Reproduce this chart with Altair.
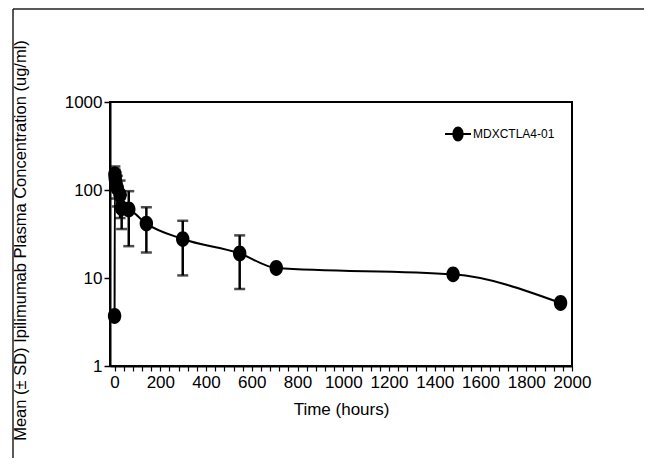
import altair as alt
import pandas as pd

# ---- data ----
time_h = [0, 1.5, 3, 6, 12, 24, 31, 62, 139, 298, 547, 707, 1480, 1950]
mean_conc = [3.7, 150, 135, 120, 105, 88, 62, 60, 41.5, 27.7, 19.0, 13.0, 11.0, 5.2]
sd_conc = [None, 35, 35, 40, 40, 40, 26, 37, 22, 17, 11.5, None, None, None]
series_name = "MDXCTLA4-01"
x_ticks = list(range(0, 2001, 40))
y_ticks = [1, 10, 100, 1000]

df = pd.DataFrame({"t": time_h, "c": mean_conc, "sd": sd_conc, "series": series_name})
err = df.dropna(subset=["sd"]).copy()
err["lo"] = err["c"] - err["sd"]
err["hi"] = err["c"] + err["sd"]

FONT = "Liberation Sans"
xscale = alt.Scale(domain=[-20, 2000], nice=False, zero=False)
yscale = alt.Scale(type="log", domain=[1, 1000], nice=False)

x_axis = alt.Axis(
    title="Time (hours)", values=x_ticks, tickCount=len(x_ticks),
    labelExpr="datum.value % 200 == 0 ? datum.label : ''",
    labelOverlap=False, labelBound=False,
    format="d", grid=False, tickSize=5, tickWidth=1.2, tickColor="black",
    domainColor="black", domainWidth=2, labelPadding=3, labelFontSize=17,
    labelColor="black", titleFontSize=17, titleFontWeight="normal",
    titleColor="black", titleY=43, titleBaseline="middle", labelFlush=False,
)
y_axis = alt.Axis(
    title="Mean (± SD) Ipilimumab Plasma Concentration (ug/ml)", values=y_ticks,
    format="d", grid=False, tickSize=6, tickWidth=1.5, tickColor="black",
    domainColor="black", domainWidth=2, labelPadding=2, labelFontSize=17,
    labelColor="black", titleFontSize=16.5, titleFontWeight="normal",
    titleColor="black", titleX=-90, titleY=138, titleBaseline="middle",
    titleAngle=-90, labelFlush=False, labelOverlap=False,
)

line = alt.Chart(df).mark_line(interpolate="monotone", color="black", strokeWidth=2).encode(
    x=alt.X("t:Q", scale=xscale, axis=x_axis),
    y=alt.Y("c:Q", scale=yscale, axis=y_axis),
)

bars = alt.Chart(err).mark_errorbar(
    ticks={"size": 11, "thickness": 2.5, "color": "black"},
    rule={"strokeWidth": 2.5, "color": "black"},
).encode(
    x=alt.X("t:Q", scale=xscale),
    y=alt.Y("lo:Q", scale=yscale, title=""),
    y2="hi:Q",
)

ELLIPSE = "M0,-1A0.85,1,0,1,1,0,1A0.85,1,0,1,1,0,-1Z"
LEG_SYM = "M-1,0H1M0,-0.5A0.36,0.5,0,1,1,0,0.5A0.36,0.5,0,1,1,0,-0.5Z"

points = alt.Chart(df).mark_point(
    shape=ELLIPSE, filled=True, size=250, opacity=1
).encode(
    x=alt.X("t:Q", scale=xscale),
    y=alt.Y("c:Q", scale=yscale),
    color=alt.Color(
        "series:N", scale=alt.Scale(range=["black"]),
        legend=alt.Legend(
            title=None, orient="none", legendX=334, legendY=18,
            symbolType=LEG_SYM, symbolSize=676, symbolStrokeWidth=2,
            symbolFillColor="black", symbolStrokeColor="black",
            labelFontSize=12, labelColor="black", labelOffset=1, padding=0,
        ),
    ),
)

frame_df = pd.DataFrame({"k": [0]})
frame_top = alt.Chart(frame_df).mark_rule(color="#222", strokeWidth=1.5).encode(
    x=alt.value(-97), x2=alt.value(560), y=alt.value(-93)
)
frame_left = alt.Chart(frame_df).mark_rule(color="#222", strokeWidth=1.5).encode(
    x=alt.value(-97), y=alt.value(-93), y2=alt.value(400)
)

chart = alt.layer(frame_top, frame_left, line, bars, points).properties(
    width=462, height=264,
    autosize=alt.AutoSizeParams(type="none"),
    padding={"left": 102, "top": 94, "right": 72, "bottom": 92},
).configure(font=FONT).configure_view(stroke="black", strokeWidth=2)

chart.save("out.html", embed_options={"renderer": "svg", "actions": False})
